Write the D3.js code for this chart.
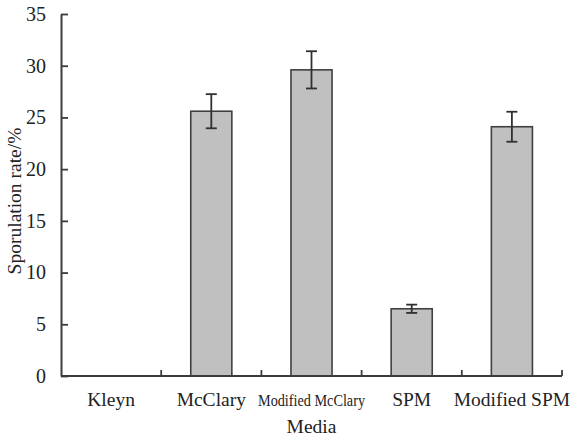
<!DOCTYPE html>
<html>
<head>
<meta charset="utf-8">
<script src="https://cdn.jsdelivr.net/npm/d3@7"></script>
<style>
  body { margin: 0; background: #fff; }
  text { font-family: "Liberation Serif", "Times New Roman", serif; fill: #222; }
</style>
</head>
<body>
<div id="chart"></div>
<script>
// data
var media = ["Kleyn", "McClary", "Modified McClary", "SPM", "Modified SPM"];
var rate = [0, 25.6, 29.6, 6.5, 24.1];
var err = [0, 1.65, 1.8, 0.4, 1.45];
var yTicks = [0, 5, 10, 15, 20, 25, 30, 35];

var svgWidth = 572;
var svgHeight = 441;

var svg = d3.select("#chart")
    .append("svg")
    .attr("width", svgWidth)
    .attr("height", svgHeight);

var plotLeft = 61, plotRight = 562, plotTop = 14, plotBottom = 376;
var axisColor = "#3c3c3c";

var x = d3.scaleBand()
    .domain(media)
    .range([plotLeft, plotRight])
    .paddingInner(0.59)
    .paddingOuter(0.295);

var y = d3.scaleLinear()
    .domain([0, 35])
    .range([plotBottom, plotTop]);

var step = x.step();

//bars
var rows = media.map(function (m, i) {
    return { name: m, value: rate[i], err: err[i] };
});

svg.selectAll("rect.bar")
    .data(rows.filter(d => d.value > 0))
    .enter()
    .append("rect")
    .attr("class", "bar")
    .attr("x", d => x(d.name))
    .attr("y", d => y(d.value))
    .attr("width", x.bandwidth())
    .attr("height", d => y(0) - y(d.value))
    .attr("fill", "#c0c0c0")
    .attr("stroke", "#404040")
    .attr("stroke-width", 1.6);

//error bars
var eb = svg.selectAll("g.err")
    .data(rows.filter(d => d.err > 0))
    .enter()
    .append("g")
    .attr("class", "err")
    .attr("stroke", "#303030")
    .attr("stroke-width", 1.8);

eb.append("line")
    .attr("x1", d => x(d.name) + x.bandwidth() / 2)
    .attr("x2", d => x(d.name) + x.bandwidth() / 2)
    .attr("y1", d => y(d.value + d.err))
    .attr("y2", d => y(d.value - d.err));

[1, -1].forEach(function (s) {
    eb.append("line")
        .attr("x1", d => x(d.name) + x.bandwidth() / 2 - 5.5)
        .attr("x2", d => x(d.name) + x.bandwidth() / 2 + 5.5)
        .attr("y1", d => y(d.value + s * d.err))
        .attr("y2", d => y(d.value + s * d.err));
});

//y axis
var leftAxis = d3.axisLeft(y)
    .tickValues(yTicks)
    .tickSizeInner(-7)
    .tickSizeOuter(0)
    .tickPadding(15);

var gy = svg.append("g")
    .attr("transform", `translate(${plotLeft}, 0)`)
    .call(leftAxis);
gy.select(".domain").attr("stroke", axisColor).attr("stroke-width", 2);
gy.selectAll(".tick line").attr("stroke", axisColor).attr("stroke-width", 1.8);
gy.selectAll(".tick text")
    .style("font-size", "20px")
    .style("font-family", "Liberation Serif, serif")
    .attr("fill", "#222");

//x axis: line with inward ticks at category boundaries
svg.append("line")
    .attr("x1", plotLeft)
    .attr("x2", plotRight)
    .attr("y1", plotBottom)
    .attr("y2", plotBottom)
    .attr("stroke", axisColor)
    .attr("stroke-width", 2);

svg.selectAll("line.xtick")
    .data(media)
    .enter()
    .append("line")
    .attr("class", "xtick")
    .attr("x1", d => x(d) + x.bandwidth() / 2 + step / 2)
    .attr("x2", d => x(d) + x.bandwidth() / 2 + step / 2)
    .attr("y1", plotBottom)
    .attr("y2", plotBottom - 6)
    .attr("stroke", axisColor)
    .attr("stroke-width", 1.8);

var labels = svg.selectAll("text.cat")
    .data(media)
    .enter()
    .append("text")
    .attr("class", "cat")
    .attr("x", d => x(d) + x.bandwidth() / 2)
    .attr("y", 406)
    .attr("text-anchor", "middle")
    .style("font-size", d => d === "Modified McClary" ? "16px" : "19.5px")
    .text(d => d);

labels.filter(d => d === "Modified McClary")
    .attr("textLength", 107)
    .attr("lengthAdjust", "spacingAndGlyphs");

//axis titles
svg.append("text")
    .attr("x", (plotLeft + plotRight) / 2)
    .attr("y", 433)
    .attr("text-anchor", "middle")
    .style("font-size", "19.5px")
    .text("Media");

svg.append("text")
    .attr("transform", "translate(21, 201) rotate(-90)")
    .attr("text-anchor", "middle")
    .style("font-size", "19.5px")
    .text("Sporulation rate/%");
</script>
</body>
</html>
